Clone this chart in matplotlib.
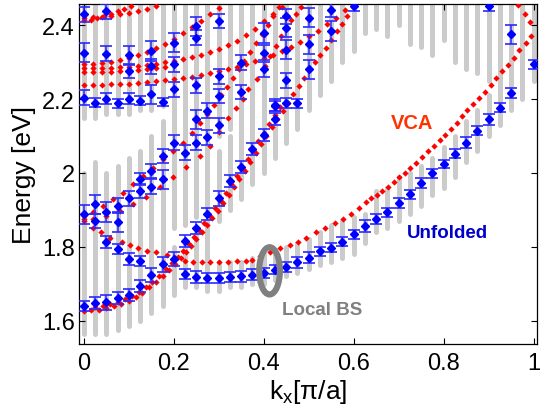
import numpy as np
import matplotlib
matplotlib.use('Agg')
import matplotlib.pyplot as plt
from matplotlib.patches import Ellipse

plt.rcParams['font.family'] = ['Liberation Sans', 'DejaVu Sans']

# local band structure: gray columns, (k, [(E_low, E_high), ...])
local_k = [0.000, 0.025, 0.050, 0.075, 0.100, 0.125, 0.150, 0.175, 0.200, 0.225,
           0.250, 0.275, 0.300, 0.325, 0.350, 0.375, 0.400, 0.425, 0.450, 0.475,
           0.500, 0.525, 0.550, 0.575, 0.600, 0.625, 0.650, 0.675, 0.700, 0.725,
           0.750, 0.775, 0.800, 0.825, 0.850, 0.875, 0.900, 0.925, 0.950, 0.975, 1.000]
local_ranges = [
    [(1.565, 2.00), (2.15, 2.457)],
    [(1.565, 2.03), (2.15, 2.457)],
    [(1.565, 2.00), (2.16, 2.457)],
    [(1.575, 2.02), (2.16, 2.457)],
    [(1.585, 2.04), (2.16, 2.457)],
    [(1.600, 2.06), (2.17, 2.457)],
    [(1.620, 2.10), (2.17, 2.457)],
    [(1.640, 2.14), (2.18, 2.457)],
    [(1.670, 1.80), (1.85, 2.457)],
    [(1.690, 1.82), (1.86, 2.457)],
    [(1.690, 1.84), (1.88, 2.457)],
    [(1.680, 1.87), (1.90, 2.457)],
    [(1.680, 1.76), (1.87, 2.06), (2.10, 2.457)],
    [(1.690, 1.76), (1.90, 2.10), (2.12, 2.457)],
    [(1.690, 1.76), (1.93, 2.457)],
    [(1.700, 1.77), (1.97, 2.457)],
    [(1.700, 1.78), (2.00, 2.457)],
    [(1.710, 1.79), (2.04, 2.457)],
    [(1.720, 1.80), (2.08, 2.457)],
    [(1.730, 1.81), (2.12, 2.457)],
    [(1.740, 1.82), (2.17, 2.457)],
    [(1.750, 1.84), (2.21, 2.457)],
    [(1.760, 1.86), (2.25, 2.457)],
    [(1.770, 1.87), (2.30, 2.457)],
    [(1.780, 1.88), (2.33, 2.457)],
    [(1.810, 1.89), (2.38, 2.457)],
    [(1.840, 1.95), (2.39, 2.457)],
    [(1.850, 1.96), (2.37, 2.457)],
    [(1.870, 1.99), (2.40, 2.457)],
    [(1.890, 2.00), (2.35, 2.457)],
    [(1.910, 2.02), (2.34, 2.457)],
    [(1.940, 2.04), (2.32, 2.457)],
    [(1.960, 2.07), (2.36, 2.457)],
    [(1.990, 2.10), (2.30, 2.457)],
    [(2.030, 2.14), (2.28, 2.457)],
    [(2.060, 2.17), (2.27, 2.457)],
    [(2.100, 2.21), (2.25, 2.457)],
    [(2.130, 2.457)],
    [(2.170, 2.457)],
    [(2.200, 2.457)],
    [(2.250, 2.457)],
]

# unfolded bands with error bars
unf_k = [0.000, 0.025, 0.050, 0.075, 0.100, 0.125, 0.150, 0.175, 0.200, 0.225,
         0.250, 0.275, 0.300, 0.325, 0.350, 0.375, 0.400, 0.425, 0.450, 0.475,
         0.500, 0.525, 0.550, 0.575, 0.600, 0.625, 0.650, 0.675, 0.700, 0.725,
         0.750, 0.775, 0.800, 0.825, 0.850, 0.875, 0.900, 0.925, 0.950, 1.000,
         0.000, 0.025, 0.025, 0.050, 0.050, 0.075, 0.075, 0.100, 0.125,
         0.075, 0.100, 0.125, 0.125, 0.150, 0.150, 0.175, 0.175, 0.200, 0.225,
         0.250, 0.250, 0.275, 0.275, 0.225, 0.250, 0.275, 0.300, 0.300, 0.325,
         0.350, 0.375, 0.400, 0.425, 0.425,
         0.000, 0.000, 0.000, 0.025, 0.050, 0.050, 0.050, 0.075, 0.100, 0.100,
         0.100, 0.125, 0.150, 0.150, 0.150, 0.175, 0.200, 0.200, 0.200, 0.250,
         0.250, 0.250, 0.300, 0.300, 0.300, 0.350, 0.350, 0.400, 0.400, 0.400,
         0.425, 0.450, 0.450, 0.450, 0.450, 0.450, 0.475, 0.500, 0.500, 0.500,
         0.550, 0.550, 0.600, 0.900, 0.950]
unf_E = [1.639, 1.648, 1.650, 1.661, 1.670, 1.693, 1.724, 1.753, 1.767, 1.726,
         1.719, 1.715, 1.715, 1.718, 1.720, 1.725, 1.730, 1.738, 1.746, 1.758,
         1.771, 1.788, 1.798, 1.814, 1.834, 1.857, 1.875, 1.893, 1.918, 1.942,
         1.972, 1.999, 2.024, 2.052, 2.082, 2.114, 2.145, 2.177, 2.217, 2.294,
         1.888, 1.915, 1.870, 1.894, 1.813, 1.867, 1.794, 1.767, 1.762,
         1.911, 1.931, 1.983, 1.951, 2.005, 1.963, 2.046, 1.983, 2.082, 2.055,
         2.082, 2.145, 2.096, 2.168, 1.816, 1.852, 1.888, 1.931, 2.129, 1.978,
         2.017, 2.064, 2.102, 2.147, 2.183,
         2.429, 2.325, 2.204, 2.190, 2.438, 2.323, 2.201, 2.188, 2.318, 2.201,
         2.276, 2.195, 2.330, 2.213, 2.289, 2.192, 2.352, 2.226, 2.294, 2.397,
         2.366, 2.237, 2.411, 2.262, 2.208, 2.298, 2.219, 2.379, 2.325, 2.280,
         2.181, 2.424, 2.393, 2.334, 2.251, 2.190, 2.188, 2.420, 2.348, 2.280,
         2.442, 2.384, 2.451, 2.451, 2.375]
unf_err = [0.014, 0.016, 0.020, 0.016, 0.016, 0.016, 0.020, 0.020, 0.020, 0.014,
           0.016, 0.014, 0.014, 0.014, 0.014, 0.014, 0.014, 0.012, 0.014, 0.014,
           0.014, 0.012, 0.012, 0.012, 0.012, 0.016, 0.014, 0.012, 0.014, 0.012,
           0.014, 0.012, 0.012, 0.012, 0.014, 0.012, 0.014, 0.012, 0.014, 0.012,
           0.026, 0.026, 0.020, 0.026, 0.016, 0.026, 0.014, 0.016, 0.014,
           0.020, 0.020, 0.016, 0.020, 0.020, 0.020, 0.020, 0.026, 0.020, 0.020,
           0.020, 0.026, 0.020, 0.020, 0.016, 0.016, 0.016, 0.020, 0.020, 0.016,
           0.016, 0.016, 0.016, 0.016, 0.016,
           0.020, 0.026, 0.020, 0.012, 0.020, 0.020, 0.014, 0.012, 0.026, 0.014,
           0.020, 0.012, 0.026, 0.026, 0.020, 0.012, 0.026, 0.020, 0.020, 0.026,
           0.020, 0.020, 0.020, 0.020, 0.020, 0.020, 0.020, 0.026, 0.020, 0.020,
           0.014, 0.020, 0.026, 0.026, 0.020, 0.014, 0.012, 0.026, 0.026, 0.026,
           0.020, 0.026, 0.014, 0.014, 0.026]

# VCA bands
vca_lower_k = [0.000, 0.017, 0.033, 0.050, 0.067, 0.083, 0.100, 0.115, 0.130, 0.145,
               0.160, 0.175, 0.190, 0.203, 0.215, 0.227, 0.239, 0.250, 0.262, 0.274,
               0.286, 0.298, 0.310, 0.322, 0.334, 0.346, 0.358, 0.370, 0.382, 0.394,
               0.406, 0.418, 0.430, 0.442, 0.454, 0.466, 0.478, 0.490, 0.502, 0.514,
               0.526, 0.538, 0.550, 0.562, 0.574, 0.586, 0.598]
vca_lower_E = [1.627, 1.628, 1.630, 1.634, 1.639, 1.644, 1.654, 1.665, 1.676, 1.690,
               1.706, 1.722, 1.738, 1.753, 1.769, 1.786, 1.803, 1.821, 1.840, 1.858,
               1.878, 1.898, 1.918, 1.940, 1.962, 1.984, 2.006, 2.030, 2.054, 2.078,
               2.100, 2.124, 2.146, 2.168, 2.190, 2.213, 2.235, 2.258, 2.280, 2.300,
               2.318, 2.338, 2.360, 2.383, 2.404, 2.426, 2.448]

# partner of the lower band, slightly above it
vca_pair_k = [0.025, 0.042, 0.058, 0.075, 0.092, 0.108, 0.123, 0.138, 0.152, 0.167,
              0.182, 0.196, 0.209, 0.221, 0.233, 0.245, 0.256, 0.268, 0.280, 0.292,
              0.304, 0.316, 0.328, 0.340, 0.352, 0.364, 0.376, 0.388, 0.400, 0.412,
              0.424, 0.436]
vca_pair_E = [1.636, 1.640, 1.645, 1.651, 1.659, 1.668, 1.679, 1.692, 1.706, 1.722,
              1.739, 1.756, 1.773, 1.790, 1.808, 1.826, 1.845, 1.864, 1.884, 1.904,
              1.925, 1.947, 1.969, 1.991, 2.014, 2.038, 2.062, 2.086, 2.109, 2.133,
              2.156, 2.178]

vca_main_k = [0.000, 0.021, 0.039, 0.058, 0.084, 0.102, 0.121, 0.141, 0.161, 0.184,
              0.202, 0.224, 0.243, 0.262, 0.280, 0.300, 0.320, 0.340, 0.360, 0.375,
              0.391, 0.413, 0.436, 0.458, 0.476, 0.495, 0.516, 0.536, 0.558, 0.576,
              0.594, 0.611, 0.628, 0.639, 0.652, 0.664, 0.677, 0.689, 0.701, 0.713,
              0.726, 0.739, 0.752, 0.765, 0.778, 0.791, 0.804, 0.817, 0.829, 0.841,
              0.853, 0.865, 0.878, 0.891, 0.906, 0.917, 0.930, 0.942, 0.956, 0.967,
              0.984, 0.995]
vca_main_E = [1.875, 1.850, 1.841, 1.825, 1.814, 1.805, 1.796, 1.789, 1.785, 1.778,
              1.771, 1.762, 1.760, 1.760, 1.760, 1.760, 1.760, 1.761, 1.762, 1.765,
              1.774, 1.785, 1.796, 1.805, 1.814, 1.825, 1.839, 1.850, 1.864, 1.875,
              1.890, 1.906, 1.922, 1.931, 1.940, 1.951, 1.963, 1.976, 1.988, 2.001,
              2.014, 2.028, 2.043, 2.059, 2.073, 2.088, 2.103, 2.118, 2.136, 2.154,
              2.170, 2.186, 2.204, 2.220, 2.237, 2.256, 2.276, 2.292, 2.312, 2.332,
              2.352, 2.370]

vca_edge_k = [0.965, 0.980, 0.993]
vca_edge_E = [2.455, 2.429, 2.408]

vca_mid_k = [0.000, 0.021, 0.043, 0.065, 0.087, 0.110, 0.132, 0.154, 0.176, 0.199,
             0.221, 0.240, 0.258, 0.274, 0.290, 0.305, 0.318, 0.331, 0.344, 0.357,
             0.370, 0.383, 0.396, 0.409, 0.421, 0.433]
vca_mid_E = [1.884, 1.895, 1.911, 1.929, 1.947, 1.969, 1.992, 2.014, 2.037, 2.060,
             2.082, 2.108, 2.136, 2.160, 2.185, 2.210, 2.233, 2.256, 2.280, 2.304,
             2.328, 2.352, 2.376, 2.400, 2.424, 2.448]

vca_up_k = [0.000, 0.021, 0.050, 0.080, 0.110, 0.139, 0.169, 0.199, 0.228, 0.258,
            0.280, 0.300, 0.320, 0.339, 0.354, 0.365, 0.384, 0.402, 0.415, 0.428,
            0.439, 0.450, 0.461, 0.472, 0.483]
vca_up_E = [1.870, 1.875, 1.884, 1.897, 1.915, 1.936, 1.961, 1.988, 2.015, 2.046,
            2.073, 2.110, 2.150, 2.175, 2.200, 2.226, 2.253, 2.289, 2.316, 2.343,
            2.370, 2.393, 2.415, 2.429, 2.450]

vca_flat_k = [0.000, 0.020, 0.040, 0.060, 0.080, 0.100, 0.120, 0.140, 0.160, 0.180,
              0.200, 0.220, 0.240, 0.260, 0.280, 0.300, 0.320, 0.340, 0.360, 0.380,
              0.400, 0.420, 0.440, 0.460, 0.480, 0.500, 0.520, 0.540, 0.560, 0.580]
vca_flat_E = [2.238, 2.238, 2.239, 2.240, 2.241, 2.242, 2.244, 2.246, 2.248, 2.251,
              2.255, 2.258, 2.261, 2.265, 2.270, 2.275, 2.281, 2.288, 2.295, 2.302,
              2.310, 2.320, 2.330, 2.342, 2.355, 2.370, 2.385, 2.402, 2.420, 2.440]

vca_b1_k = [0.000, 0.020, 0.040, 0.060, 0.080, 0.100, 0.120, 0.140, 0.160, 0.180,
            0.200, 0.220, 0.240, 0.260, 0.280, 0.300]
vca_b1_E = [2.295, 2.296, 2.298, 2.301, 2.305, 2.311, 2.318, 2.327, 2.338, 2.350,
            2.363, 2.378, 2.394, 2.411, 2.429, 2.447]

vca_b2_k = [0.000, 0.020, 0.040, 0.060, 0.080, 0.100, 0.120, 0.140, 0.160, 0.180,
            0.200, 0.220, 0.240, 0.260, 0.280, 0.300, 0.320, 0.340, 0.360, 0.380,
            0.400, 0.420, 0.440]
vca_b2_E = [2.283, 2.283, 2.284, 2.285, 2.286, 2.288, 2.290, 2.293, 2.296, 2.300,
            2.304, 2.309, 2.314, 2.320, 2.327, 2.335, 2.345, 2.357, 2.372, 2.390,
            2.410, 2.430, 2.450]

vca_b3_k = [0.000, 0.020, 0.040, 0.060, 0.080, 0.100, 0.120, 0.140, 0.160, 0.180,
            0.200]
vca_b3_E = [2.272, 2.272, 2.273, 2.274, 2.275, 2.277, 2.279, 2.282, 2.285, 2.288,
            2.292]

vca_top_k = [0.000, 0.015, 0.030, 0.045, 0.060, 0.075, 0.090, 0.105,
             0.000, 0.020, 0.040, 0.060, 0.080, 0.100, 0.120, 0.140, 0.160]
vca_top_E = [2.413, 2.415, 2.419, 2.425, 2.431, 2.437, 2.444, 2.452,
             2.420, 2.421, 2.423, 2.426, 2.430, 2.434, 2.439, 2.445, 2.452]

fig = plt.figure(figsize=(5.4, 4.14), dpi=100)
ax = fig.add_axes([0.146, 0.1667, 0.848, 0.821])

# gray columns of the local band structure
for k, segs in zip(local_k, local_ranges):
    for lo, hi in segs:
        ax.plot([k, k], [lo, hi], color='#cbcbcb', linewidth=3.6,
                solid_capstyle='round', zorder=1)

# VCA dotted bands
for kk, ee in [(vca_lower_k, vca_lower_E), (vca_pair_k, vca_pair_E),
               (vca_main_k, vca_main_E), (vca_edge_k, vca_edge_E),
               (vca_mid_k, vca_mid_E), (vca_up_k, vca_up_E),
               (vca_flat_k, vca_flat_E), (vca_b1_k, vca_b1_E),
               (vca_b2_k, vca_b2_E), (vca_b3_k, vca_b3_E), (vca_top_k, vca_top_E)]:
    ax.plot(kk, ee, linestyle='none', marker='D', markersize=3.2,
            color='#ff0000', markeredgewidth=0, zorder=3)

# unfolded bands (caps take their width from capthick)
ax.errorbar(unf_k, unf_E, yerr=unf_err, fmt='D', color='#0000ff',
            ecolor='#2a2aff', elinewidth=1.1, capsize=4, capthick=1.2,
            markersize=4.0, markerfacecolor='#0000ff', markeredgecolor='#0000ff',
            zorder=4)

ax.add_patch(Ellipse((0.413, 1.735), 0.046, 0.128, fill=False,
                     edgecolor='#808080', linewidth=4.4, zorder=5))

ax.text(0.729, 2.136, 'VCA', color='#ff3300', fontsize=14.5, fontweight='bold',
        ha='center', va='center')
ax.text(0.809, 1.838, 'Unfolded', color='#0000cc', fontsize=13.5, fontweight='bold',
        ha='center', va='center')
ax.text(0.529, 1.631, 'Local BS', color='#808080', fontsize=13.5, fontweight='bold',
        ha='center', va='center')

ax.set_xlim(-0.011, 1.007)
ax.set_ylim(1.537, 2.457)
ax.set_xticks([0, 0.2, 0.4, 0.6, 0.8, 1])
ax.set_xticklabels(['0', '0.2', '0.4', '0.6', '0.8', '1'])
ax.set_yticks([1.6, 1.8, 2.0, 2.2, 2.4])
ax.set_yticklabels(['1.6', '1.8', '2', '2.2', '2.4'])
ax.tick_params(direction='in', length=4, width=0.8, labelsize=17,
               top=True, right=True)
ax.tick_params(axis='x', pad=6)
ax.tick_params(axis='y', pad=3)
for sp in ax.spines.values():
    sp.set_linewidth(0.9)
ax.set_xlabel(r'$\mathregular{k_x}$[π/a]', fontsize=19, labelpad=2)
ax.set_ylabel('Energy [eV]', fontsize=19, labelpad=4)

fig.savefig('out.png', dpi=100)
